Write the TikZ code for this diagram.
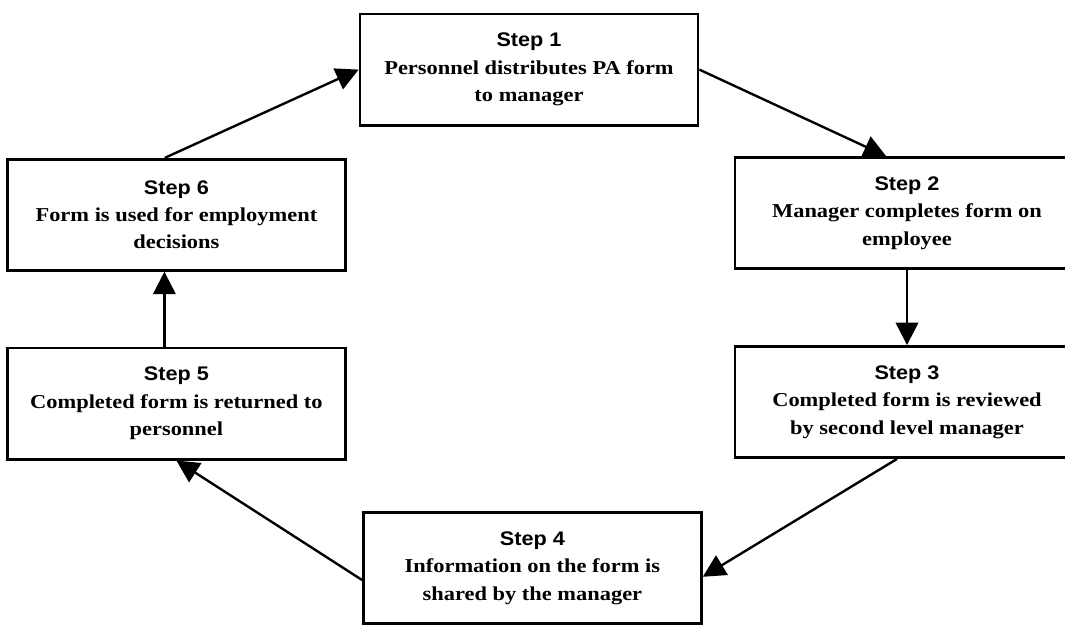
\documentclass[tikz,border=0pt]{standalone}
\usepackage{fontspec}
\setmainfont{Liberation Serif}[FakeStretch=1.14]
\setsansfont{Liberation Sans}[FakeStretch=1.1]
\usetikzlibrary{arrows.meta}
\tikzstyle{stepbox} = [
    rectangle,
    minimum width=8.45cm,
    minimum height=2.78cm,
    align=center,
    line width=1.9pt,
    font=\bfseries\fontsize{14}{19.5}\selectfont,
    draw=black
]
\tikzstyle{arrow} = [line width=1.7pt,-{Triangle[length=16pt,width=16pt]}]
\newcommand{\steplabel}[1]{{\sffamily\fontsize{14}{19.5}\selectfont Step #1}}

\begin{document}
\begin{tikzpicture}[node distance=4.72cm]

\useasboundingbox (0,0) rectangle (26.625,-15.625);

\node (s1) [stepbox] at (13.225,-1.74)
{\steplabel{1}\\Personnel distributes PA form\\to manager};

\node (s2) [stepbox, minimum width=8.6cm] at (22.675,-5.33)
{\steplabel{2}\\Manager completes form on\\employee};

\node (s3) [stepbox, minimum width=8.6cm, below of=s2]
{\steplabel{3}\\Completed form is reviewed\\by second level manager};

\node (s4) [stepbox] at (13.31,-14.2)
{\steplabel{4}\\Information on the form is\\shared by the manager};

\node (s6) [stepbox] at (4.41,-5.37)
{\steplabel{6}\\Form is used for employment\\decisions};

\node (s5) [stepbox, below of=s6]
{\steplabel{5}\\Completed form is returned to\\personnel};

\draw [arrow] ([xshift=-0.29cm]s6.north) -- (s1.west);
\draw [arrow] (s1.east) -- ([xshift=-0.52cm]s2.north);
\draw [arrow] (s2) -- (s3);
\draw [arrow] ([xshift=-0.25cm]s3.south) -- ([yshift=-0.22cm]s4.east);
\draw [arrow] ([yshift=-0.3cm]s4.west) -- (s5.south);
\draw [arrow] ([xshift=-0.3cm]s5.north) -- ([xshift=-0.3cm]s6.south);

\end{tikzpicture}
\end{document}
